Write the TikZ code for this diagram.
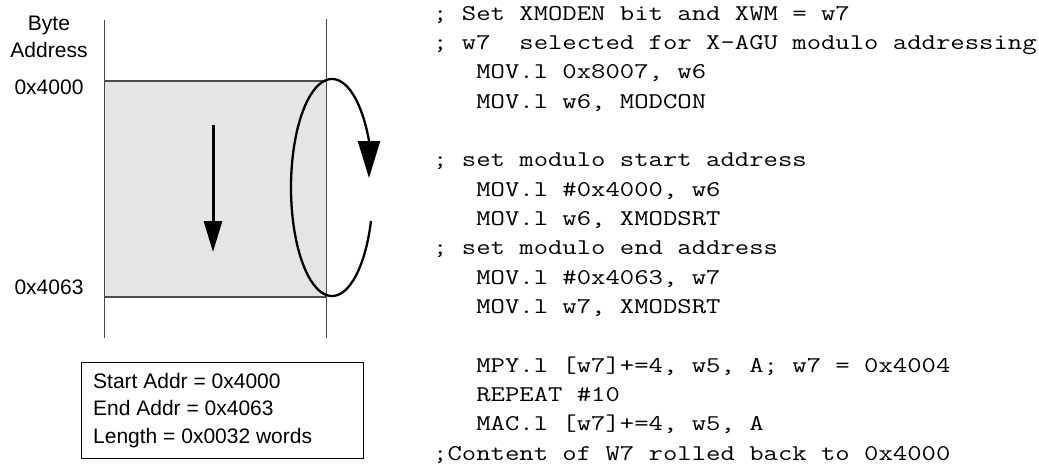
\documentclass[tikz,border=0pt]{standalone}
\usepackage{fontspec}
\setmainfont{Liberation Sans}
\newfontfamily\codefont{Latin Modern Mono}[FakeStretch=1.24]
\usetikzlibrary{arrows.meta}
\begin{document}
\begin{tikzpicture}[x=1pt,y=-1pt,
  lbl/.style={font=\fontsize{21}{25}\selectfont, inner sep=0pt, anchor=base},
  boxtxt/.style={font=\fontsize{21}{25}\selectfont, inner sep=0pt, anchor=base west},
  code/.style={font=\codefont\fontsize{22.5}{29}\selectfont, inner sep=0pt, anchor=base west},
  memline/.style={line width=1pt, draw=black!72},
  memedge/.style={line width=1.4pt, draw=black!70},
  bigarrow/.style={line width=3pt, -{Triangle[length=31pt,width=18pt]}},
  loopline/.style={line width=2.3pt},
  loophead/.style={line width=2.3pt, -{Triangle[length=37pt,width=22pt]}}
]
\useasboundingbox (0,0) rectangle (1039,464);

% memory block
\fill[black!10] (104,81) rectangle (326,297);
\coordinate (ltop) at (104,20);
\coordinate (lbot) at (104,338);
\coordinate (rtop) at (326,19);
\coordinate (rbot) at (326,338);
\draw[memline] (ltop) -- (lbot);
\draw[memline] (rtop) -- (rbot);
\draw[memedge] (104,81) -- (326,81);
\draw[memedge] (104,297) -- (326,297);

% down arrow
\coordinate (a1) at (213,125);
\coordinate (a2) at (213,252);
\draw[bigarrow] (a1) -- (a2);

% wrap-around loop
\draw[loopline] plot[domain=-18:-334.6, samples=120, variable=\t]
  ({332+41*cos(\t)}, {187.5-108.5*sin(\t)});
\coordinate (eb) at (369,140.8);
\coordinate (et) at (369,178);
\draw[loophead] (eb) -- (et);

% labels
\node[lbl] (byte) at (49,30) {Byte};
\node[lbl] (addr) at (49,57) {Address};
\node[lbl] (s4000) at (49,94) {0x4000};
\node[lbl] (s4063) at (49,294) {0x4063};

% info box
\draw[line width=1pt] (81,362) rectangle (363,458);
\node[boxtxt] (i1) at (93,388) {Start Addr = 0x4000};
\node[boxtxt] (i2) at (93,415.5) {End Addr = 0x4063};
\node[boxtxt] (i3) at (93,443) {Length = 0x0032 words};

% code
\node[code] (c0) at (433,20) {; Set XMODEN bit and XWM = w7};
\node[code] (c1) at (433,49.33) {; w7\ \ selected for X-AGU modulo addressing};
\node[code] (c2) at (476.1,78.66) {MOV.l 0x8007, w6};
\node[code] (c3) at (476.1,108) {MOV.l w6, MODCON};
\node[code] (c5) at (433,166.65) {; set modulo start address};
\node[code] (c6) at (476.1,196) {MOV.l \#0x4000, w6};
\node[code] (c7) at (476.1,225.3) {MOV.l w6, XMODSRT};
\node[code] (c8) at (433,254.6) {; set modulo end address};
\node[code] (c9) at (476.1,284) {MOV.l \#0x4063, w7};
\node[code] (c10) at (476.1,313.3) {MOV.l w7, XMODSRT};
\node[code] (c12) at (476.1,372) {MPY.l [w7]+=4, w5, A; w7 = 0x4004};
\node[code] (c13) at (476.1,401.3) {REPEAT \#10};
\node[code] (c14) at (476.1,430.6) {MAC.l [w7]+=4, w5, A};
\node[code] (c15) at (433,460) {;Content of W7 rolled back to 0x4000};
\end{tikzpicture}
\end{document}
